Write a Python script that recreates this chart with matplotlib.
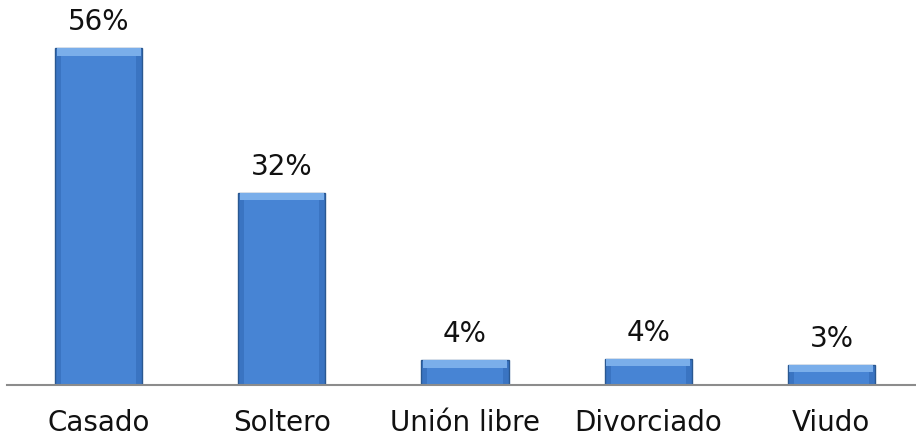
import matplotlib.pyplot as plt

# Data
categories = ["Casado", "Soltero", "Unión libre", "Divorciado", "Viudo"]
values = [56, 32, 4.2, 4.4, 3.4]

plt.rcParams["font.family"] = ["DejaVu Sans"]

fig = plt.figure(figsize=(9.16, 4.42), dpi=100)
ax = fig.add_axes([7 / 916, 57 / 442, 1.0, 385 / 442])

x = range(len(categories))
width = 0.477
ax.bar(x, values, width=width, color="#3a74c2", edgecolor="#2a5891", linewidth=1.0, zorder=2)
# light bevel on top of each bar
bevel = 1.3
ax.bar(x, [bevel] * len(values), bottom=[v - bevel for v in values], width=width * 0.96,
       color="#7aaeea", linewidth=0, zorder=3)
ax.bar(x, [v - bevel for v in values], width=width * 0.86, color="#4784d4",
       linewidth=0, zorder=3)

for xi, v in zip(x, values):
    ax.annotate(f"{v:.0f}%", (xi, v), textcoords="offset points", xytext=(0, 8.5),
                ha="center", va="bottom", fontsize=20, color="#111")

ax.set_xlim(-0.5, 4.5)
ax.set_ylim(0, 64)
ax.set_yticks([])
ax.set_xticks(list(x))
ax.set_xticklabels(categories, fontsize=20, color="#111")
ax.tick_params(axis="x", length=0, pad=17)
for side in ["top", "right", "left"]:
    ax.spines[side].set_visible(False)
ax.spines["bottom"].set_color("#8c8c8c")
ax.spines["bottom"].set_linewidth(1.5)
ax.spines["bottom"].set_zorder(4)

fig.savefig("out.png", dpi=100)
